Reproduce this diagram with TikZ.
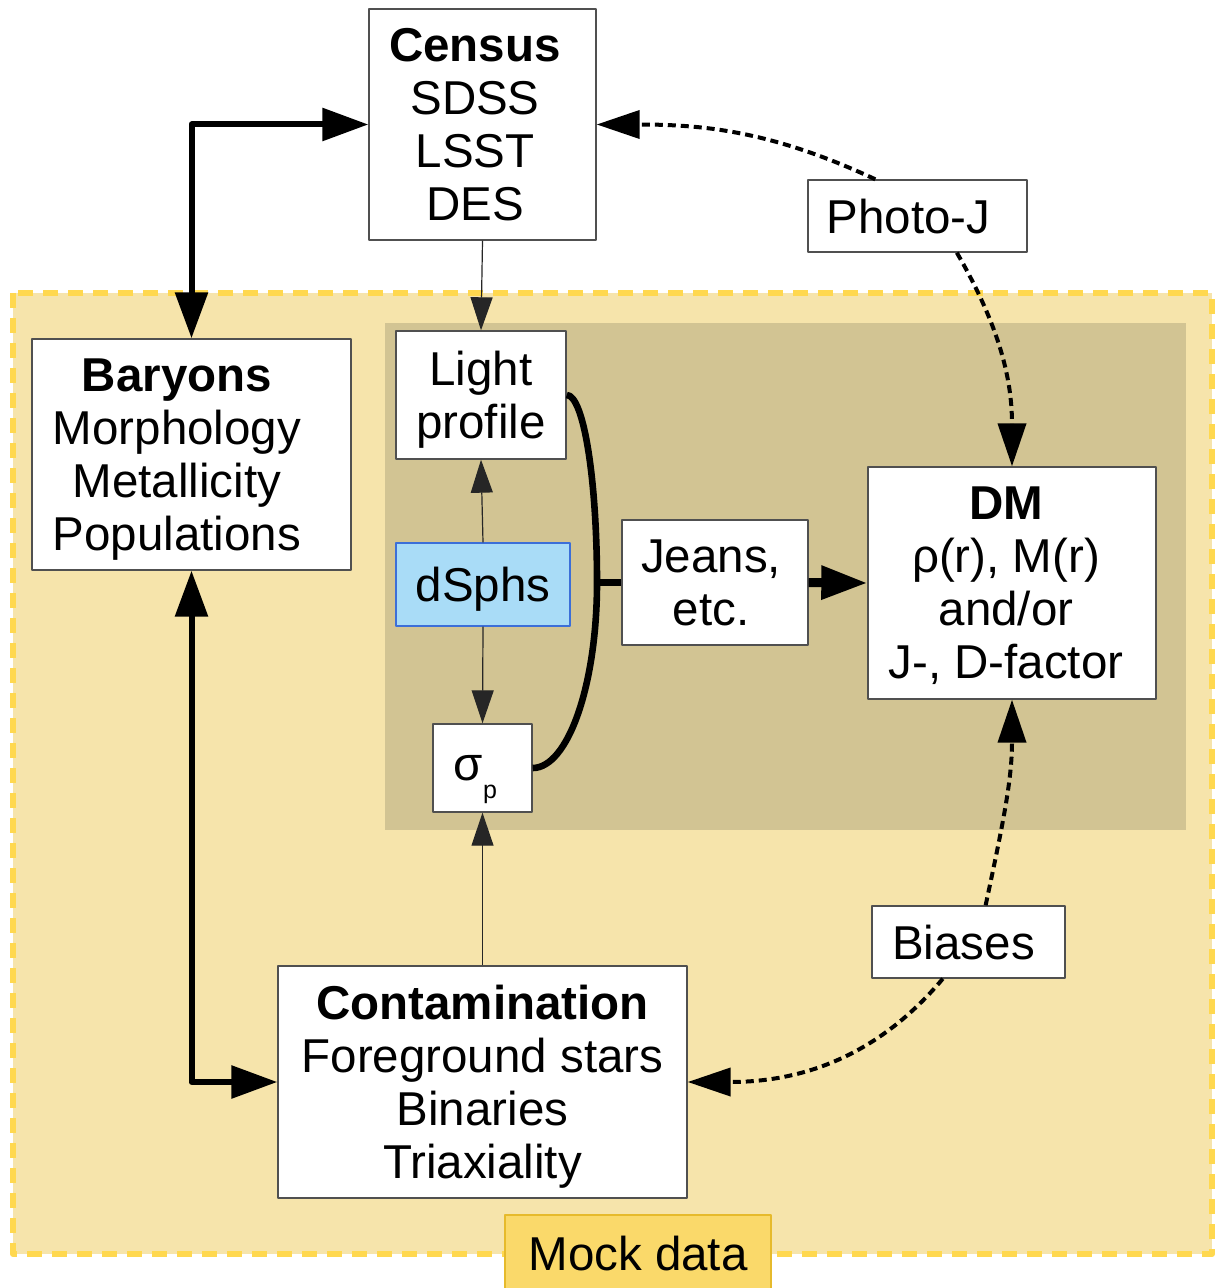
\documentclass[tikz,border=0pt]{standalone}
\usepackage{fontspec}
\setmainfont{Liberation Sans}
\usepackage{xcolor}
\usetikzlibrary{arrows.meta}
\definecolor{mockfill}{HTML}{F6E4AB}
\definecolor{mockline}{HTML}{FFD84F}
\definecolor{mocktag}{HTML}{FAD96A}
\definecolor{mocktagline}{HTML}{E6BA2C}
\definecolor{fitfill}{HTML}{D2C493}
\definecolor{dsphfill}{HTML}{A9DCF7}
\definecolor{dsphline}{HTML}{3C6FD8}
\definecolor{boxline}{HTML}{505050}
\def\boxfont{\fontsize{23.75pt}{26.5pt}\selectfont}
\def\lowsub#1{\raisebox{-9pt}{\fontsize{12.5pt}{12.5pt}\selectfont #1}}

\begin{document}
\begin{tikzpicture}[x=0.5pt, y=-0.5pt, line join=round]
%one unit is one pixel of the 1214x1288 layout
    \tikzstyle{box}=[draw=boxline, fill=white, line width=0.7pt, inner sep=2pt, align=center, font=\boxfont, text depth=0pt]
    \tikzstyle{box text}=[align=center, font=\boxfont, text depth=0pt, inner sep=0pt]
    \tikzstyle{thin link}=[draw=black!85, line width=0.6pt, >={Triangle[length=16.5pt,width=11pt]}]
    \tikzstyle{thick link}=[draw=black, line width=3pt, >={Triangle[length=23pt,width=16pt]}]
    \tikzstyle{brace link}=[draw=black, line width=3.3pt]
    \tikzstyle{dash link}=[draw=black, line width=2pt, dash pattern=on 4pt off 2.5pt, >={Triangle[length=21.5pt,width=14pt]}]

    \useasboundingbox (0,0) rectangle (1214,1288);

    % mock data region, fit region inside
    \draw[fill=mockfill, draw=mockline, line width=3pt, dash pattern=on 7.5pt off 5pt] (13,293) rectangle (1212,1254);
    \fill[fitfill] (385,323) rectangle (1186,830);

    \node[box, minimum width=113.5pt, minimum height=115.5pt, label={[box text, xshift=-3.75pt]center:{\textbf{Census}\\SDSS\\LSST\\DES}}] (census) at (482.5,124.5) {};
    \node[box, minimum width=109.5pt, minimum height=36pt, label={[box text, xshift=-4.5pt]center:Photo-J}] (photoj) at (917.5,216) {};
    \node[box, minimum width=159.5pt, minimum height=115.5pt, label={[box text, xshift=-7.25pt]center:{\textbf{Baryons}\\Morphology\\Metallicity\\Populations}}] (baryons) at (191.5,454.5) {};
    \node[box, minimum width=85pt, minimum height=64pt] (light) at (481,395) {Light\\profile};
    \node[box, draw=dsphline, fill=dsphfill, minimum width=87pt, minimum height=41.5pt] (dsphs) at (483,584.5) {dSphs};
    \node[box, minimum width=49.5pt, minimum height=44pt, label={[box text, xshift=-3.5pt]center:σ\lowsub{p}}] (sigma) at (482.5,768) {};
    \node[box, minimum width=93pt, minimum height=62.5pt, label={[box text, xshift=-2pt]center:{Jeans,\\etc.}}] (jeans) at (715,582.5) {};
    \node[box, minimum width=144pt, minimum height=116pt, label={[box text, xshift=-3pt]center:{\textbf{DM}\\ρ(r), M(r)\\and/or\\J-, D-factor}}] (dm) at (1012,583) {};
    \node[box, minimum width=96.5pt, minimum height=36pt, label={[box text, xshift=-2.5pt]center:Biases}] (biases) at (968.5,942) {};
    \node[box, minimum width=204.5pt, minimum height=116pt] (contam) at (482.5,1082) {\textbf{Contamination}\\Foreground stars\\Binaries\\Triaxiality};
    \node[box, draw=mocktagline, fill=mocktag, line width=1pt, minimum width=133pt, minimum height=38pt] (mock) at (638,1253) {Mock data};
    \coordinate (fork) at (597,582.5);

    \draw[thick link, <->] (census.west) -| (baryons.north);
    \draw[thick link, <->] (baryons.south) |- (contam.west);

    \path (census.south) edge[thin link, ->] (light.north);
    \path (dsphs.north) edge[thin link, ->] (light.south);
    \path (dsphs.south) edge[thin link, ->] (sigma.north);
    \path (contam.north) edge[thin link, ->] (sigma.south);

    \draw[brace link] (light.east) to[out=0, in=90, out distance=8.5pt, in distance=51.5pt] (fork)
        to[out=-90, in=0, out distance=51.5pt, in distance=17.5pt] (sigma.east);
    \draw[brace link] (fork) -- (jeans.west);
    \draw[thick link, line width=4.5pt, ->] (jeans.east) -- (dm.west);

    % dashed feedback
    \path (photoj.139) edge[dash link, ->, out=155, in=0] (census.east);
    \path (photoj.-43) edge[dash link, ->, out=-60, in=90] (dm.north);
    \path (biases.65) edge[dash link, ->, out=78, in=-90] (dm.south);
    \path (biases.-125) edge[dash link, ->, out=-130, in=0] (contam.east);
\end{tikzpicture}
\end{document}
